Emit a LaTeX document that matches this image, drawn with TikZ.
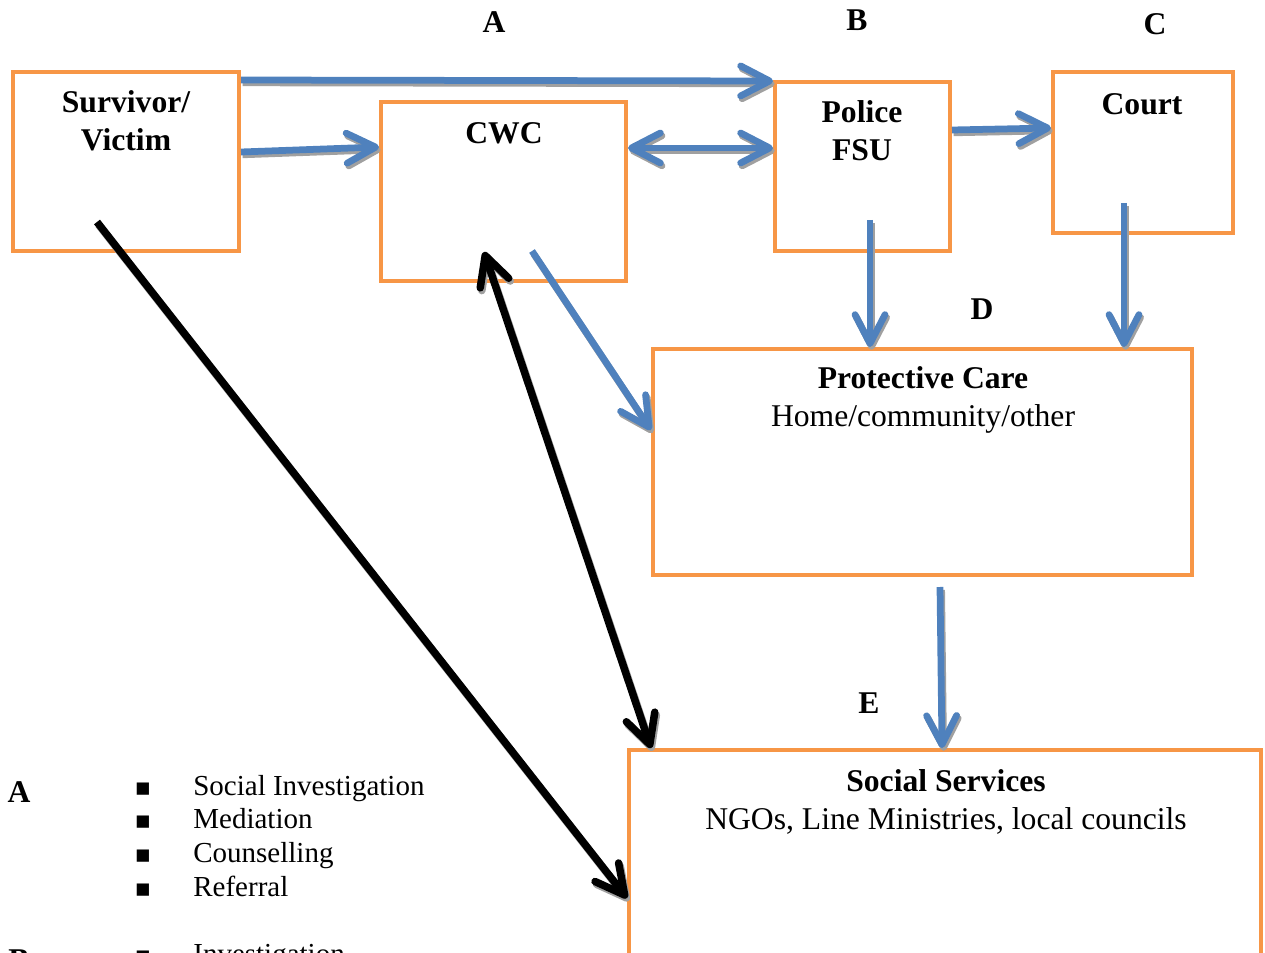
\documentclass[tikz,border=0pt]{standalone}
\usepackage{fontspec}
\setmainfont{Liberation Serif}
\newfontfamily\symfont{DejaVu Sans}
\usetikzlibrary{arrows.meta}
\definecolor{boxorange}{RGB}{247,150,70}
\definecolor{flowblue}{RGB}{79,129,189}
\definecolor{shadowgray}{RGB}{160,160,160}

\begin{document}
\begin{tikzpicture}[x=0.2mm, y=-0.2mm,
    >={Straight Barb[length=5.8mm, width=6mm, round]},
    agency/.style ={draw=boxorange, line width=0.8mm, anchor=north west, inner sep=0pt},
    title/.style ={font=\fontsize{18}{21.5}\selectfont\bfseries, align=center},
    info/.style ={font=\fontsize{18}{21.5}\selectfont, align=center},
    letter/.style ={font=\fontsize{18}{21.5}\selectfont\bfseries},
    entry/.style ={font=\fontsize{16.5}{19}\selectfont, anchor=base west, inner sep=0pt},
    bullet/.style ={font=\symfont\fontsize{14}{16}\selectfont, inner sep=0pt},
    shade/.style ={draw=shadowgray, transform canvas={xshift=0.9pt, yshift=-1.6pt}},
    flow/.style ={draw=flowblue, line width=1.35mm},
    link/.style ={draw=black, line width=1.5mm}]
   \useasboundingbox (0,0) rectangle (1265,953);

   % agencies
   \node[agency, minimum width=45.2mm, minimum height=35.8mm] (surv) at (11,70) {};
   \node[agency, minimum width=49mm, minimum height=35.8mm] (cwc) at (379,100) {};
   \node[agency, minimum width=35mm, minimum height=33.8mm] (pol) at (773,80) {};
   \node[agency, minimum width=36mm, minimum height=32.2mm] (court) at (1051,70) {};
   \node[agency, minimum width=107.8mm, minimum height=45.2mm] (care) at (651,347) {};
   \node[agency, minimum width=126.4mm, minimum height=52mm] (soc) at (627,748) {};

   \node[title] (survtitle) at (126,121) {Survivor/\\Victim};
   \node[title] (cwctitle) at (504,133) {CWC};
   \node[title] (poltitle) at (862,131) {Police\\FSU};
   \node[title] (courttitle) at (1142,104) {Court};
   \node[info] (caretitle) at (923,400) {\textbf{Protective Care}\\Home/community/other};
   \node[info] (soctitle) at (946,802) {\textbf{Social Services}\\NGOs, Line Ministries, local councils};

   \node[letter] (labA) at (494,22) {A};
   \node[letter] (labB) at (857,20) {B};
   \node[letter] (labC) at (1155,24) {C};
   \node[letter] (labD) at (982,309) {D};
   \node[letter] (labE) at (869,703) {E};

   % start points inside the boxes
   \coordinate (polout) at (870,220);
   \coordinate (courtout) at (1124,203);
   \coordinate (cwcout) at (532,251);
   \coordinate (cwcin) at (484,252);
   \coordinate (careout) at (940,587);
   \coordinate (survout) at (97,222);

   % shadow first, then the arrow itself
   \foreach \look in {shade,{}} {
     \draw[flow, \look, ->] (surv.east |- pol.north west) -- ([shift={(0,1)}]pol.north west);
     \draw[flow, \look, ->] ([shift={(0,82)}]surv.north east) -- ([shift={(0,47)}]cwc.north west);
     \draw[flow, \look, <->] ([shift={(0,48)}]cwc.north east) -- ([shift={(0,68)}]pol.north west);
     \draw[flow, \look, ->] ([shift={(0,50)}]pol.north east) -- ([shift={(0,58)}]court.north west);
     \draw[flow, \look, ->] (polout) -- (polout |- care.north);
     \draw[flow, \look, ->] (courtout) -- (courtout |- care.north);
     \draw[flow, \look, ->] (cwcout) -- ([shift={(0,83)}]care.north west);
     \draw[flow, \look, ->] (careout) -- ([shift={(315,0)}]soc.north west);
     \draw[link, \look, ->] (survout) -- ([shift={(0,150)}]soc.north west);
     \draw[link, \look, <->] (cwcin) -- ([shift={(24,0)}]soc.north west);
   }

   % legend
   \node[letter, anchor=base] (legA) at (19,802) {A};
   \foreach \txt [count=\i] in {Social Investigation, Mediation, Counselling, Referral}
     {\node[bullet] (dotA\i) at (143,{789+33.7*(\i-1)}) {▪};
      \node[entry] (itemA\i) at (193,{795+33.7*(\i-1)}) {\txt};}
   \node[letter, anchor=base] (legB) at (19,970) {B};
   \node[bullet] (dotB1) at (143,957) {▪};
   \node[entry] (itemB1) at (193,963) {Investigation};
 \end{tikzpicture}
\end{document}
